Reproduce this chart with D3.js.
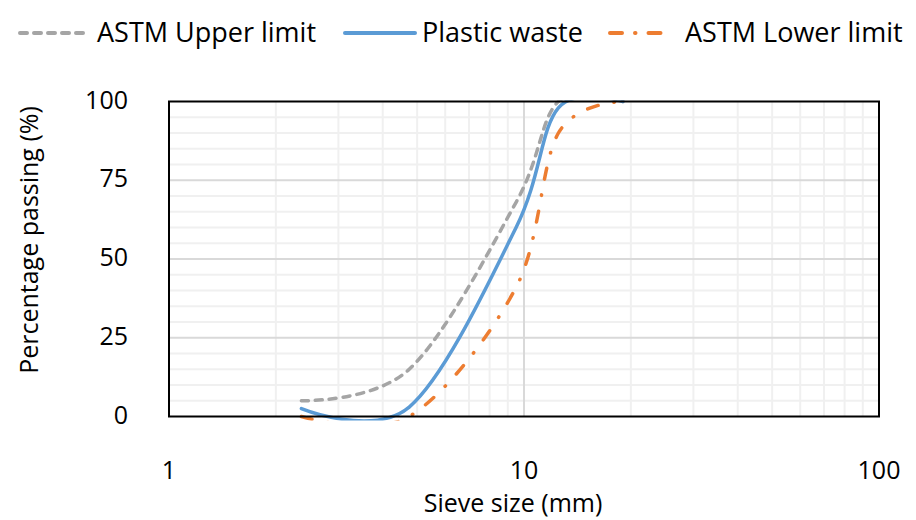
<!DOCTYPE html>
<html>
<head>
<meta charset="utf-8">
<script src="https://cdn.jsdelivr.net/npm/d3@7"></script>
<style>
  body { margin: 0; background: #fff; }
  text { font-family: "Open Sans", "Noto Sans", sans-serif; fill: #000; }
</style>
</head>
<body>
<script>
// sieve sizes (mm) and percentage passing
var sieve = [2.36, 4.75, 9.5, 12.5, 19];
var upper = [5, 15, 68, 100, 100];
var plastic = [2.5, 3, 60, 98, 100];
var lower = [0, 0, 41, 90, 100];

var seriesNames = ['ASTM Upper limit', 'Plastic waste', 'ASTM Lower limit'];
var xTicks = [1, 10, 100];
var yTicks = [0, 25, 50, 75, 100];

var width = 916, height = 520;
var plotLeft = 169, plotRight = 879, plotTop = 101.5, plotBottom = 416.5;

var svg = d3.select('body').append('svg').attr('width', width).attr('height', height);

var x = d3.scaleLog().domain([1, 100]).range([plotLeft, plotRight]);
var y = d3.scaleLinear().domain([0, 100]).range([plotBottom, plotTop]);

// minor grid
var minorX = [];
[1, 10].forEach(function(d) { for (var k = 2; k <= 9; k++) minorX.push(d * k); });
var minorY = d3.range(5, 100, 5).filter(function(d) { return d % 25 != 0; });

svg.append('g').selectAll('line').data(minorX).enter().append('line')
   .attr('x1', d => x(d)).attr('x2', d => x(d)).attr('y1', plotTop).attr('y2', plotBottom)
   .attr('stroke', '#f0f0f0').attr('stroke-width', 2);
svg.append('g').selectAll('line').data(minorY).enter().append('line')
   .attr('x1', plotLeft).attr('x2', plotRight).attr('y1', d => y(d)).attr('y2', d => y(d))
   .attr('stroke', '#f0f0f0').attr('stroke-width', 2);

// major grid
svg.append('line').attr('x1', x(10)).attr('x2', x(10)).attr('y1', plotTop).attr('y2', plotBottom)
   .attr('stroke', '#d9d9d9').attr('stroke-width', 2);
svg.append('g').selectAll('line').data([25, 50, 75]).enter().append('line')
   .attr('x1', plotLeft).attr('x2', plotRight).attr('y1', d => y(d)).attr('y2', d => y(d))
   .attr('stroke', '#d9d9d9').attr('stroke-width', 2);

// series
svg.append('clipPath').attr('id', 'clip').append('rect')
   .attr('x', plotLeft).attr('y', plotTop - 1).attr('width', plotRight - plotLeft).attr('height', plotBottom - plotTop + 5);

var series = [
  {name: seriesNames[0], values: upper, color: '#a5a5a5', dash: '7,7'},
  {name: seriesNames[1], values: plastic, color: '#5b9bd5', dash: null},
  {name: seriesNames[2], values: lower, color: '#ed7d31', dash: '11,16,0.5,16'}
];

var line = d3.line()
   .x(d => x(d[0]))
   .y(d => y(d[1]))
   .curve(d3.curveCardinal.tension(0));

svg.append('g').attr('clip-path', 'url(#clip)').selectAll('path').data(series).enter().append('path')
   .attr('d', s => line(sieve.map((v, i) => [v, s.values[i]])))
   .attr('fill', 'none')
   .attr('stroke', s => s.color)
   .attr('stroke-width', 3.5)
   .attr('stroke-linecap', 'round')
   .attr('stroke-dasharray', s => s.dash);

// plot border
svg.append('rect').attr('x', plotLeft).attr('y', plotTop).attr('width', plotRight - plotLeft).attr('height', plotBottom - plotTop)
   .attr('fill', 'none').attr('stroke', '#000').attr('stroke-width', 2);

// tick labels
svg.append('g').selectAll('text').data(yTicks).enter().append('text')
   .attr('x', 128).attr('y', d => y(d) - 3)
   .attr('text-anchor', 'end').attr('dominant-baseline', 'central')
   .attr('font-size', 25).text(d => d);
svg.append('g').selectAll('text').data(xTicks).enter().append('text')
   .attr('x', d => x(d)).attr('y', 469)
   .attr('text-anchor', 'middle').attr('dominant-baseline', 'central')
   .attr('font-size', 25).text(d => d);

// axis titles
svg.append('text').attr('x', 513).attr('y', 502)
   .attr('text-anchor', 'middle').attr('dominant-baseline', 'central')
   .attr('font-size', 25).text('Sieve size (mm)');
svg.append('text').attr('transform', 'translate(28,240) rotate(-90)')
   .attr('text-anchor', 'middle').attr('dominant-baseline', 'central')
   .attr('font-size', 25).text('Percentage passing (%)');

// legend
var legendX = [[20, 90, 97], [345, 415, 422], [610, 670, 685]];
var lg = svg.append('g').selectAll('g').data(series).enter().append('g');
lg.append('line')
  .attr('x1', (d, i) => legendX[i][0]).attr('x2', (d, i) => legendX[i][1])
  .attr('y1', 33).attr('y2', 33)
  .attr('stroke', d => d.color).attr('stroke-width', 4)
  .attr('stroke-linecap', 'round')
  .attr('stroke-dasharray', (d, i) => i == 2 ? '12,13,0.5,13' : d.dash);
lg.append('text')
  .attr('x', (d, i) => legendX[i][2]).attr('y', 31)
  .attr('dominant-baseline', 'central')
  .attr('font-size', 27).text(d => d.name);
</script>
</body>
</html>
